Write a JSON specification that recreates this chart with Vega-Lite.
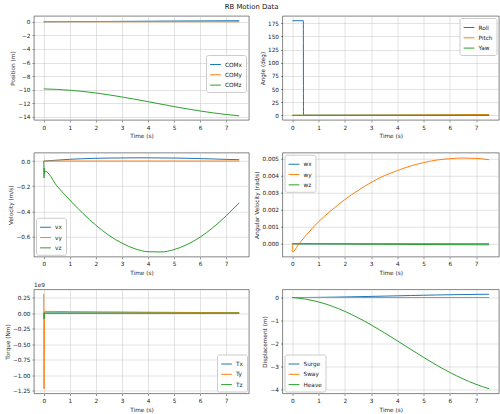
{
  "$schema": "https://vega.github.io/schema/vega-lite/v6.json",
  "padding": {"left": 3, "top": 2, "right": 0, "bottom": 0},
  "title": {"text": "RB Motion Data", "font": "DejaVu Sans", "fontSize": 6.9, "fontWeight": "normal", "color": "#111", "offset": 5, "anchor": "middle"},
  "columns": 2,
  "bounds": "flush",
  "spacing": {"row": 32.75, "column": 33.5},
  "resolve": {"scale": {"x": "independent", "y": "independent", "color": "independent"}, "legend": {"color": "independent"}, "axis": {"x": "independent", "y": "independent"}},
  "config": {
    "view": {"stroke": "#333", "strokeWidth": 0.6},
    "axis": {"labelFont": "DejaVu Sans", "labelFontSize": 5.75, "labelColor": "#222", "titleFont": "DejaVu Sans", "titleFontSize": 5.75, "titleFontWeight": "normal", "titleColor": "#222", "tickSize": 2, "tickWidth": 0.5, "tickColor": "#333", "labelPadding": 2, "titlePadding": 2.3, "domain": false, "grid": true, "gridColor": "#c4c4c4", "gridWidth": 0.5},
    "axisX": {"titlePadding": 3.2},
    "legend": {"title": null, "labelFont": "DejaVu Sans", "labelFontSize": 5.75, "labelColor": "#222", "padding": 3.5, "rowPadding": 1.3, "symbolSize": 115, "symbolStrokeWidth": 1, "symbolType": "stroke", "labelOffset": 3.5, "strokeColor": "#cccccc", "fillColor": "rgba(255,255,255,0.8)", "cornerRadius": 2, "offset": 2.2},
    "line": {"strokeWidth": 1, "interpolate": "monotone"}
  },
  "datasets": {
    "pos": [
      {"time": 0, "series": "COMx", "value": 0}, {"time": 0.5, "series": "COMx", "value": 0.0018}, {"time": 1, "series": "COMx", "value": 0.007}, {"time": 1.5, "series": "COMx", "value": 0.0152}, {"time": 2, "series": "COMx", "value": 0.0253}, {"time": 2.5, "series": "COMx", "value": 0.0368}, {"time": 3, "series": "COMx", "value": 0.0488}, {"time": 3.5, "series": "COMx", "value": 0.0614}, {"time": 4, "series": "COMx", "value": 0.0742}, {"time": 4.5, "series": "COMx", "value": 0.0867}, {"time": 5, "series": "COMx", "value": 0.0988}, {"time": 5.5, "series": "COMx", "value": 0.1103}, {"time": 6, "series": "COMx", "value": 0.1206}, {"time": 6.5, "series": "COMx", "value": 0.1296}, {"time": 7, "series": "COMx", "value": 0.1371}, {"time": 7.5, "series": "COMx", "value": 0.143},
      {"time": 0, "series": "COMy", "value": 0}, {"time": 7.5, "series": "COMy", "value": 0},
      {"time": 0, "series": "COMz", "value": -9.88}, {"time": 0.5, "series": "COMz", "value": -9.949}, {"time": 1, "series": "COMz", "value": -10.072}, {"time": 1.5, "series": "COMz", "value": -10.25}, {"time": 2, "series": "COMz", "value": -10.48}, {"time": 2.5, "series": "COMz", "value": -10.754}, {"time": 3, "series": "COMz", "value": -11.064}, {"time": 3.5, "series": "COMz", "value": -11.401}, {"time": 4, "series": "COMz", "value": -11.756}, {"time": 4.5, "series": "COMz", "value": -12.117}, {"time": 5, "series": "COMz", "value": -12.474}, {"time": 5.5, "series": "COMz", "value": -12.814}, {"time": 6, "series": "COMz", "value": -13.125}, {"time": 6.5, "series": "COMz", "value": -13.403}, {"time": 7, "series": "COMz", "value": -13.642}, {"time": 7.5, "series": "COMz", "value": -13.835}
    ],
    "ang": [
      {"time": 0, "series": "Roll", "value": 180}, {"time": 0.42, "series": "Roll", "value": 180}, {"time": 0.425, "series": "Roll", "value": 0}, {"time": 7.5, "series": "Roll", "value": 0},
      {"time": 0, "series": "Pitch", "value": 0}, {"time": 0.5, "series": "Pitch", "value": 0}, {"time": 1, "series": "Pitch", "value": 0.023}, {"time": 1.5, "series": "Pitch", "value": 0.07}, {"time": 2, "series": "Pitch", "value": 0.136}, {"time": 2.5, "series": "Pitch", "value": 0.218}, {"time": 3, "series": "Pitch", "value": 0.314}, {"time": 3.5, "series": "Pitch", "value": 0.423}, {"time": 4, "series": "Pitch", "value": 0.542}, {"time": 4.5, "series": "Pitch", "value": 0.669}, {"time": 5, "series": "Pitch", "value": 0.803}, {"time": 5.5, "series": "Pitch", "value": 0.942}, {"time": 6, "series": "Pitch", "value": 1.084}, {"time": 6.5, "series": "Pitch", "value": 1.228}, {"time": 7, "series": "Pitch", "value": 1.372}, {"time": 7.5, "series": "Pitch", "value": 1.515},
      {"time": 0, "series": "Yaw", "value": 0}, {"time": 7.5, "series": "Yaw", "value": 0}
    ],
    "vel": [
      {"time": 0, "series": "vx", "value": 0}, {"time": 0.5, "series": "vx", "value": 0.007}, {"time": 1, "series": "vx", "value": 0.014}, {"time": 1.5, "series": "vx", "value": 0.0185}, {"time": 2, "series": "vx", "value": 0.022}, {"time": 2.5, "series": "vx", "value": 0.0238}, {"time": 3, "series": "vx", "value": 0.0246}, {"time": 3.5, "series": "vx", "value": 0.0255}, {"time": 4, "series": "vx", "value": 0.0255}, {"time": 4.5, "series": "vx", "value": 0.0246}, {"time": 5, "series": "vx", "value": 0.0238}, {"time": 5.5, "series": "vx", "value": 0.022}, {"time": 6, "series": "vx", "value": 0.0194}, {"time": 6.5, "series": "vx", "value": 0.0167}, {"time": 7, "series": "vx", "value": 0.0132}, {"time": 7.5, "series": "vx", "value": 0.0106},
      {"time": 0, "series": "vy", "value": 0}, {"time": 7.5, "series": "vy", "value": 0},
      {"time": 0, "series": "vz", "value": 0}, {"time": 0.01, "series": "vz", "value": -0.135}, {"time": 0.02, "series": "vz", "value": -0.055}, {"time": 0.03, "series": "vz", "value": -0.1}, {"time": 0.05, "series": "vz", "value": -0.08}, {"time": 0.5, "series": "vz", "value": -0.197}, {"time": 1, "series": "vz", "value": -0.31}, {"time": 1.5, "series": "vz", "value": -0.416}, {"time": 2, "series": "vz", "value": -0.51}, {"time": 2.5, "series": "vz", "value": -0.591}, {"time": 3, "series": "vz", "value": -0.653}, {"time": 3.5, "series": "vz", "value": -0.698}, {"time": 4, "series": "vz", "value": -0.721}, {"time": 4.5, "series": "vz", "value": -0.723}, {"time": 5, "series": "vz", "value": -0.704}, {"time": 5.5, "series": "vz", "value": -0.664}, {"time": 6, "series": "vz", "value": -0.605}, {"time": 6.5, "series": "vz", "value": -0.528}, {"time": 7, "series": "vz", "value": -0.435}, {"time": 7.5, "series": "vz", "value": -0.332}
    ],
    "angvel": [
      {"time": 0, "series": "wx", "value": 0}, {"time": 7.5, "series": "wx", "value": 0},
      {"time": 0, "series": "wy", "value": 0}, {"time": 0.005, "series": "wy", "value": -0.00048}, {"time": 0.25, "series": "wy", "value": 0.0}, {"time": 0.5, "series": "wy", "value": 0.00045}, {"time": 1, "series": "wy", "value": 0.0013}, {"time": 1.5, "series": "wy", "value": 0.00198}, {"time": 2, "series": "wy", "value": 0.0026}, {"time": 2.5, "series": "wy", "value": 0.00313}, {"time": 3, "series": "wy", "value": 0.0036}, {"time": 3.5, "series": "wy", "value": 0.004}, {"time": 4, "series": "wy", "value": 0.0043}, {"time": 4.5, "series": "wy", "value": 0.00457}, {"time": 5, "series": "wy", "value": 0.00477}, {"time": 5.5, "series": "wy", "value": 0.00492}, {"time": 6, "series": "wy", "value": 0.005}, {"time": 6.5, "series": "wy", "value": 0.00504}, {"time": 7, "series": "wy", "value": 0.00502}, {"time": 7.5, "series": "wy", "value": 0.00494},
      {"time": 0, "series": "wz", "value": 0}, {"time": 7.5, "series": "wz", "value": -0.00006}
    ],
    "torque": [
      {"time": 0, "series": "Tx", "value": 0}, {"time": 7.5, "series": "Tx", "value": 0},
      {"time": 0, "series": "Ty", "value": 310000000}, {"time": 0.008, "series": "Ty", "value": -1220000000}, {"time": 0.03, "series": "Ty", "value": 28000000}, {"time": 1, "series": "Ty", "value": 24000000}, {"time": 2, "series": "Ty", "value": 21000000}, {"time": 3, "series": "Ty", "value": 18000000}, {"time": 4, "series": "Ty", "value": 15000000}, {"time": 5, "series": "Ty", "value": 12000000}, {"time": 6, "series": "Ty", "value": 9000000}, {"time": 7, "series": "Ty", "value": 6000000}, {"time": 7.5, "series": "Ty", "value": 5000000},
      {"time": 0, "series": "Tz", "value": 0}, {"time": 0.012, "series": "Tz", "value": -95000000}, {"time": 0.03, "series": "Tz", "value": 0}, {"time": 7.5, "series": "Tz", "value": 0}
    ],
    "disp": [
      {"time": 0, "series": "Surge", "value": 0}, {"time": 0.5, "series": "Surge", "value": 0.0018}, {"time": 1, "series": "Surge", "value": 0.007}, {"time": 1.5, "series": "Surge", "value": 0.0152}, {"time": 2, "series": "Surge", "value": 0.0253}, {"time": 2.5, "series": "Surge", "value": 0.0368}, {"time": 3, "series": "Surge", "value": 0.0488}, {"time": 3.5, "series": "Surge", "value": 0.0614}, {"time": 4, "series": "Surge", "value": 0.0742}, {"time": 4.5, "series": "Surge", "value": 0.0867}, {"time": 5, "series": "Surge", "value": 0.0988}, {"time": 5.5, "series": "Surge", "value": 0.1103}, {"time": 6, "series": "Surge", "value": 0.1206}, {"time": 6.5, "series": "Surge", "value": 0.1296}, {"time": 7, "series": "Surge", "value": 0.1371}, {"time": 7.5, "series": "Surge", "value": 0.143},
      {"time": 0, "series": "Sway", "value": 0}, {"time": 7.5, "series": "Sway", "value": 0},
      {"time": 0, "series": "Heave", "value": 0}, {"time": 0.5, "series": "Heave", "value": -0.069}, {"time": 1, "series": "Heave", "value": -0.192}, {"time": 1.5, "series": "Heave", "value": -0.37}, {"time": 2, "series": "Heave", "value": -0.6}, {"time": 2.5, "series": "Heave", "value": -0.874}, {"time": 3, "series": "Heave", "value": -1.184}, {"time": 3.5, "series": "Heave", "value": -1.521}, {"time": 4, "series": "Heave", "value": -1.876}, {"time": 4.5, "series": "Heave", "value": -2.237}, {"time": 5, "series": "Heave", "value": -2.594}, {"time": 5.5, "series": "Heave", "value": -2.934}, {"time": 6, "series": "Heave", "value": -3.245}, {"time": 6.5, "series": "Heave", "value": -3.523}, {"time": 7, "series": "Heave", "value": -3.762}, {"time": 7.5, "series": "Heave", "value": -3.955}
    ]
  },
  "concat": [
    {
      "width": 215, "height": 104,
      "data": {"name": "pos"},
      "mark": {"type": "line"},
      "encoding": {
        "x": {"field": "time", "type": "quantitative", "scale": {"domain": [-0.375, 7.875], "nice": false, "zero": false}, "axis": {"title": "Time (s)", "values": [0, 1, 2, 3, 4, 5, 6, 7], "format": "d"}},
        "y": {"field": "value", "type": "quantitative", "scale": {"domain": [-14.45, 0.84], "nice": false, "zero": false}, "axis": {"title": "Position (m)", "values": [0, -2, -4, -6, -8, -10, -12, -14], "format": "d"}},
        "color": {"field": "series", "type": "nominal", "scale": {"domain": ["COMx", "COMy", "COMz"], "range": ["#1f77b4", "#ff7f0e", "#2ca02c"]}, "legend": {"orient": "none", "legendX": 172, "legendY": 39}}
      }
    },
    {
      "width": 216.5, "height": 104,
      "data": {"name": "ang"},
      "mark": {"type": "line"},
      "encoding": {
        "x": {"field": "time", "type": "quantitative", "scale": {"domain": [-0.375, 7.875], "nice": false, "zero": false}, "axis": {"title": "Time (s)", "values": [0, 1, 2, 3, 4, 5, 6, 7], "format": "d"}},
        "y": {"field": "value", "type": "quantitative", "scale": {"domain": [-9, 189], "nice": false, "zero": false}, "axis": {"title": "Angle (deg)", "values": [0, 25, 50, 75, 100, 125, 150, 175], "format": "d"}},
        "color": {"field": "series", "type": "nominal", "scale": {"domain": ["Roll", "Pitch", "Yaw"], "range": ["#1f77b4", "#ff7f0e", "#2ca02c"]}, "legend": {"orient": "top-right"}}
      }
    },
    {
      "width": 215, "height": 104,
      "data": {"name": "vel"},
      "mark": {"type": "line"},
      "encoding": {
        "x": {"field": "time", "type": "quantitative", "scale": {"domain": [-0.375, 7.875], "nice": false, "zero": false}, "axis": {"title": "Time (s)", "values": [0, 1, 2, 3, 4, 5, 6, 7], "format": "d"}},
        "y": {"field": "value", "type": "quantitative", "scale": {"domain": [-0.761, 0.066], "nice": false, "zero": false}, "axis": {"title": "Velocity (m/s)", "values": [0, -0.2, -0.4, -0.6], "format": ".1f"}},
        "color": {"field": "series", "type": "nominal", "scale": {"domain": ["vx", "vy", "vz"], "range": ["#1f77b4", "#ff7f0e", "#2ca02c"]}, "legend": {"orient": "bottom-left"}}
      }
    },
    {
      "width": 216.5, "height": 104,
      "data": {"name": "angvel"},
      "mark": {"type": "line"},
      "encoding": {
        "x": {"field": "time", "type": "quantitative", "scale": {"domain": [-0.375, 7.875], "nice": false, "zero": false}, "axis": {"title": "Time (s)", "values": [0, 1, 2, 3, 4, 5, 6, 7], "format": "d"}},
        "y": {"field": "value", "type": "quantitative", "scale": {"domain": [-0.00076, 0.00535], "nice": false, "zero": false}, "axis": {"title": "Angular Velocity (rad/s)", "values": [0, 0.001, 0.002, 0.003, 0.004, 0.005], "format": ".3f"}},
        "color": {"field": "series", "type": "nominal", "scale": {"domain": ["wx", "wy", "wz"], "range": ["#1f77b4", "#ff7f0e", "#2ca02c"]}, "legend": {"orient": "top-left"}}
      }
    },
    {
      "width": 215, "height": 104,
      "title": {"text": "1e9", "anchor": "start", "frame": "group", "font": "DejaVu Sans", "fontSize": 5.75, "fontWeight": "normal", "color": "#222", "offset": 2},
      "data": {"name": "torque"},
      "mark": {"type": "line"},
      "encoding": {
        "x": {"field": "time", "type": "quantitative", "scale": {"domain": [-0.375, 7.875], "nice": false, "zero": false}, "axis": {"title": "Time (s)", "values": [0, 1, 2, 3, 4, 5, 6, 7], "format": "d"}},
        "y": {"field": "value", "type": "quantitative", "scale": {"domain": [-1295000000, 380000000], "nice": false, "zero": false}, "axis": {"title": "Torque (Nm)", "values": [250000000, 0, -250000000, -500000000, -750000000, -1000000000, -1250000000], "labelExpr": "format(datum.value / 1e9, '.2f')"}},
        "color": {"field": "series", "type": "nominal", "scale": {"domain": ["Tx", "Ty", "Tz"], "range": ["#1f77b4", "#ff7f0e", "#2ca02c"]}, "legend": {"orient": "bottom-right"}}
      }
    },
    {
      "width": 216.5, "height": 104,
      "data": {"name": "disp"},
      "mark": {"type": "line"},
      "encoding": {
        "x": {"field": "time", "type": "quantitative", "scale": {"domain": [-0.375, 7.875], "nice": false, "zero": false}, "axis": {"title": "Time (s)", "values": [0, 1, 2, 3, 4, 5, 6, 7], "format": "d"}},
        "y": {"field": "value", "type": "quantitative", "scale": {"domain": [-4.16, 0.348], "nice": false, "zero": false}, "axis": {"title": "Displacement (m)", "values": [0, -1, -2, -3, -4], "format": "d"}},
        "color": {"field": "series", "type": "nominal", "scale": {"domain": ["Surge", "Sway", "Heave"], "range": ["#1f77b4", "#ff7f0e", "#2ca02c"]}, "legend": {"orient": "bottom-left"}}
      }
    }
  ]
}
